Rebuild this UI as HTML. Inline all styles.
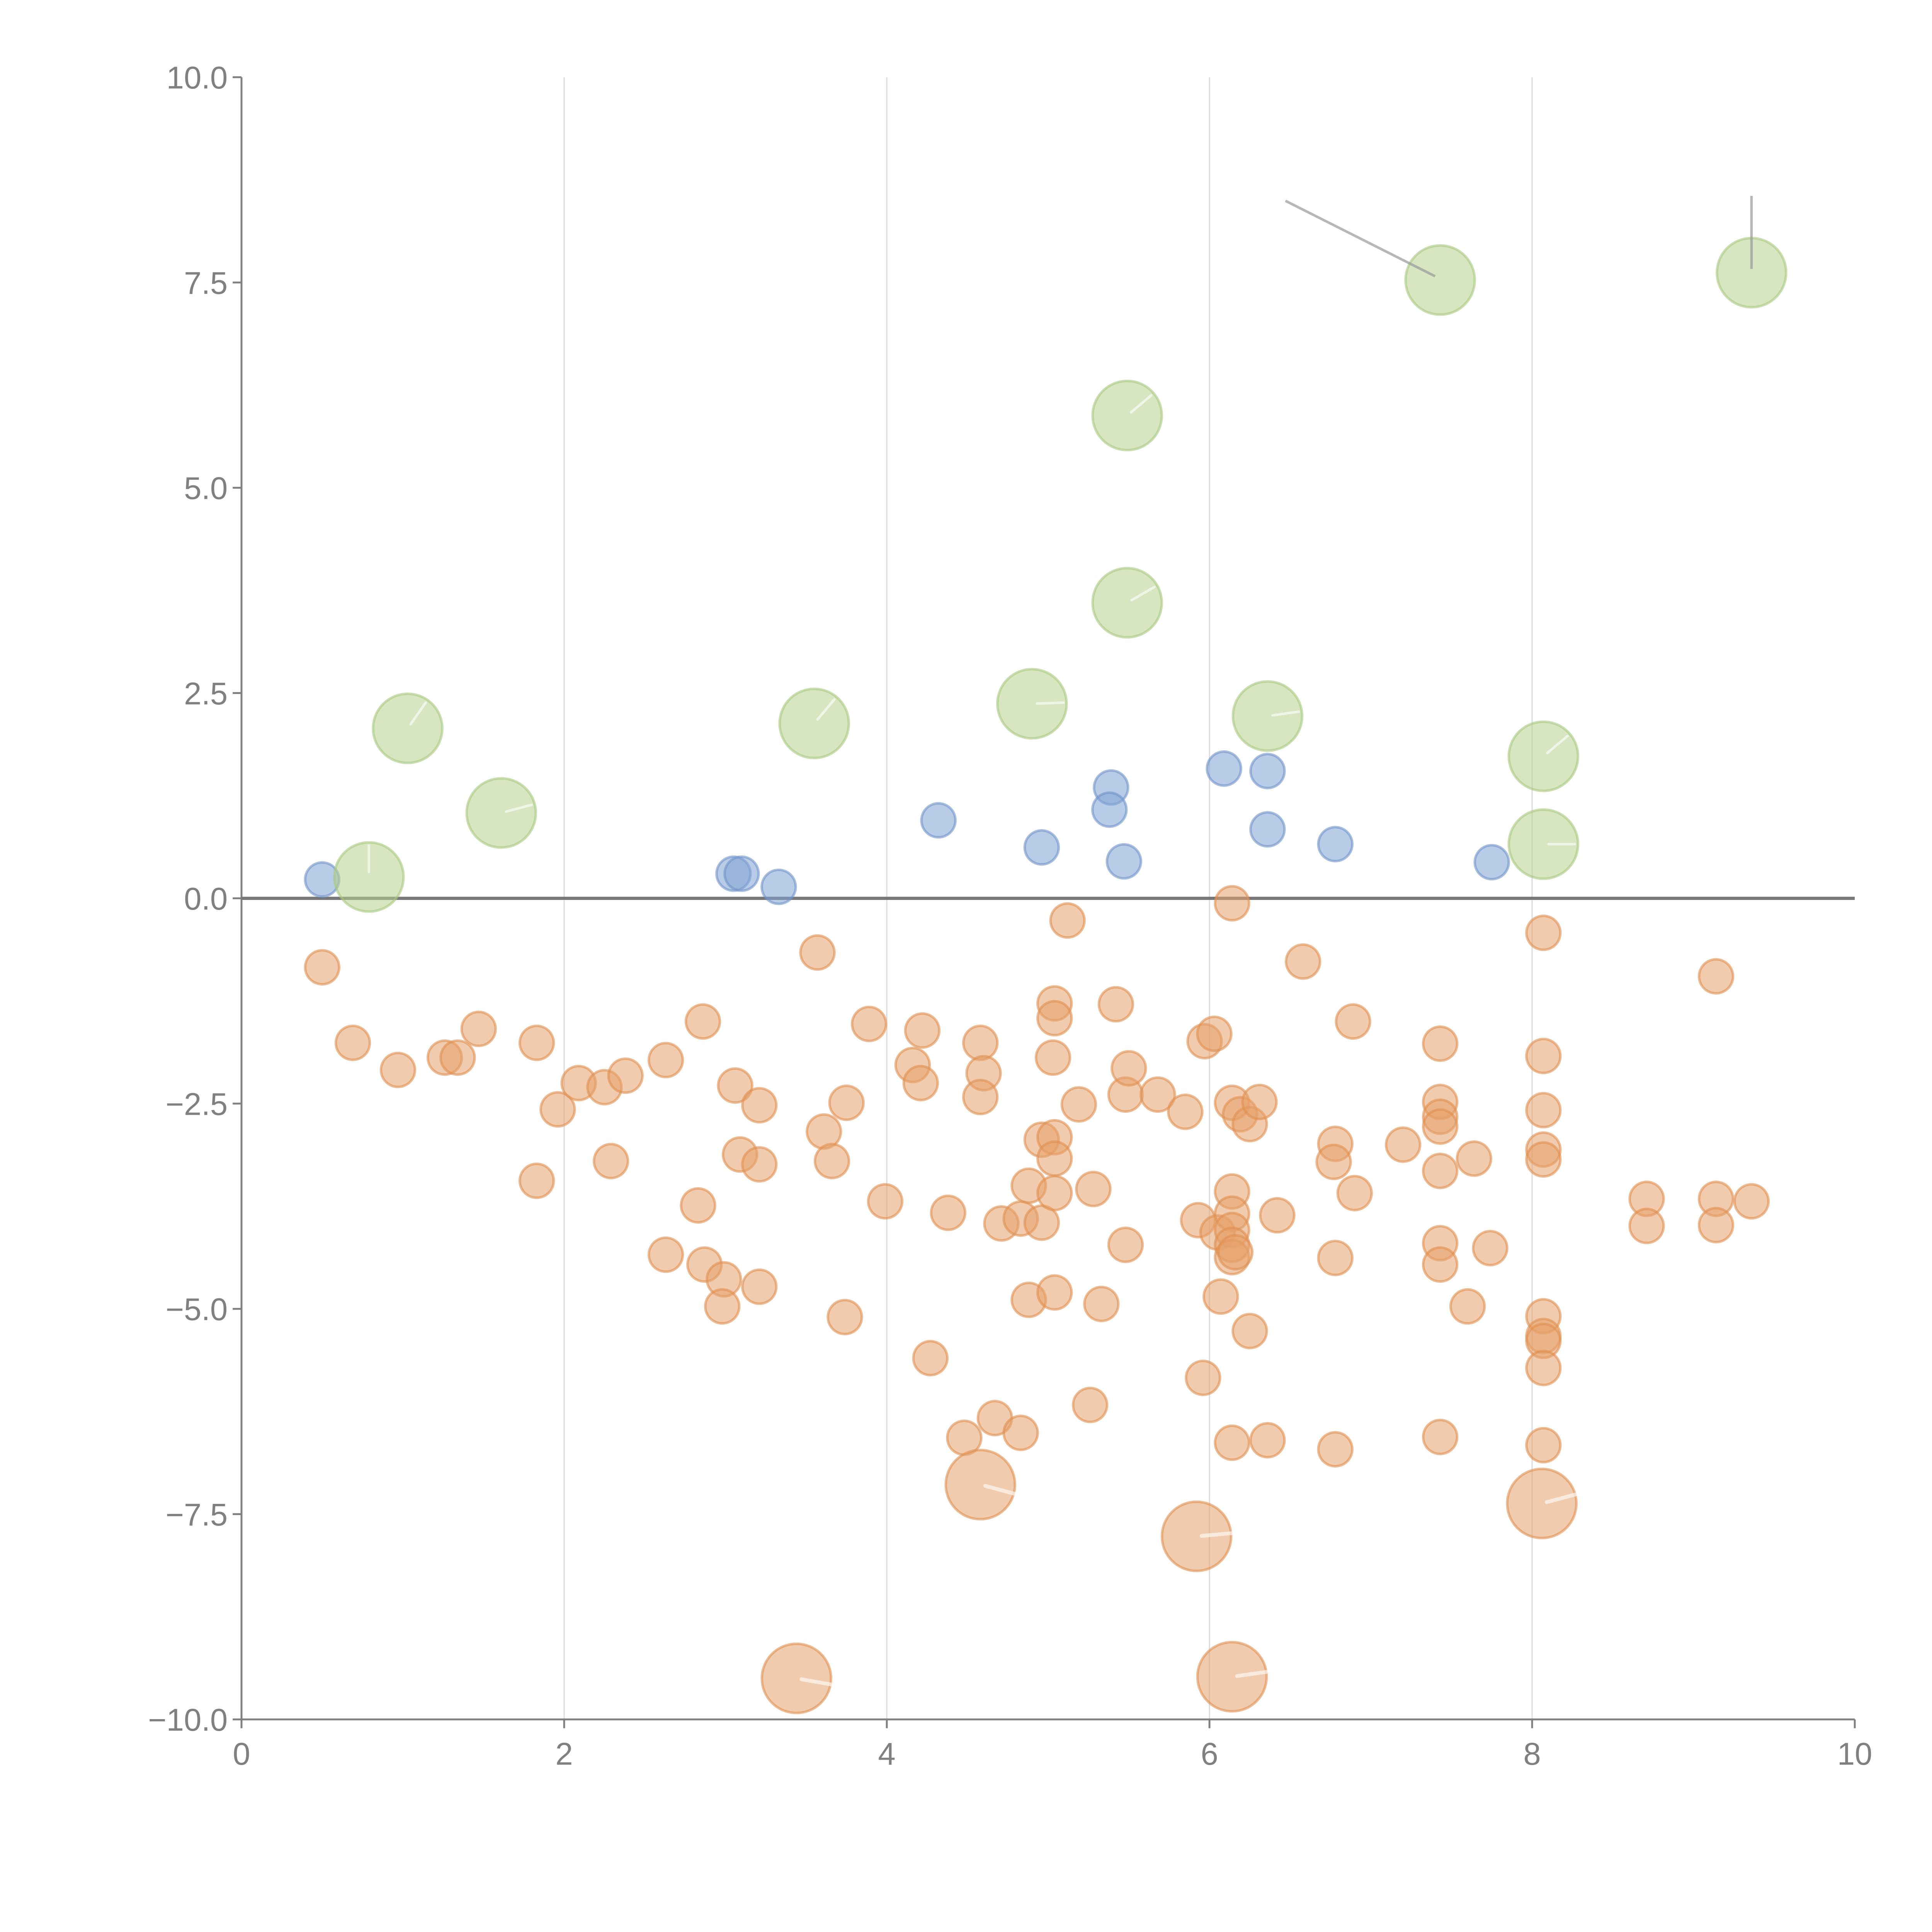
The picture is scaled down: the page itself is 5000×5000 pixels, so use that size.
<!DOCTYPE html>
<html><head><meta charset="utf-8"><style>
html,body{margin:0;padding:0;background:#fff}
svg{display:block}
text{font-family:"Liberation Sans",sans-serif;fill:#808080}
</style></head><body>
<svg id="chart" width="5000" height="5000" viewBox="0 0 1536 1536" xmlns="http://www.w3.org/2000/svg">
<g id="grid"></g>
<g id="axes"></g>
<g id="marks"></g>
</svg>
<script>
const greenX=[0.79,1.03,1.61,3.55,4.90,5.49,5.49,6.36,7.43,8.07,8.07,9.36];
const greenY=[0.26,2.07,1.04,2.13,2.37,5.88,3.60,2.22,7.53,1.73,0.66,7.62];
const greenAng=[90,55,15,50,2,40,30,8,150,40,0,90];
const blueX=[0.50,3.05,3.10,3.33,4.32,4.96,5.39,5.38,5.47,6.09,6.36,6.36,6.78,7.75];
const blueY=[0.23,0.30,0.30,0.14,0.95,0.62,1.35,1.08,0.45,1.58,1.55,0.84,0.66,0.44];
const orangeX=[0.50,0.69,0.97,1.26,1.34,1.47,1.83,1.83,1.96,2.09,2.25,2.38,2.29,2.63,2.63,2.86,2.83,2.87,2.99,2.98,3.06,3.09,3.21,3.21,3.21,3.57,3.61,3.66,3.75,3.74,3.89,3.99,4.16,4.22,4.21,4.27,4.38,4.58,4.60,4.58,4.48,4.67,4.83,4.71,4.83,4.88,4.96,4.96,5.04,5.04,5.04,5.04,5.04,5.03,4.88,5.04,5.12,5.19,5.28,5.26,5.33,5.42,5.48,5.50,5.48,5.68,5.85,5.96,5.93,5.97,6.03,6.07,6.05,6.14,6.14,6.14,6.14,6.14,6.14,6.14,6.19,6.16,6.25,6.25,6.14,6.31,6.36,6.42,6.58,6.78,6.77,6.78,6.78,6.89,6.90,7.20,7.43,7.43,7.43,7.43,7.43,7.43,7.43,7.43,7.60,7.64,7.74,8.07,8.07,8.07,8.07,8.07,8.07,8.07,8.07,8.07,8.07,8.71,8.71,9.14,9.14,9.14,9.36];
const orangeY=[-0.84,-1.76,-2.09,-1.94,-1.94,-1.59,-1.76,-3.44,-2.57,-2.25,-2.30,-2.16,-3.20,-1.97,-4.34,-1.50,-3.74,-4.46,-4.64,-4.97,-2.28,-3.12,-2.52,-3.24,-4.73,-0.66,-2.84,-3.20,-2.49,-5.10,-1.53,-3.69,-2.03,-1.61,-2.25,-5.60,-3.83,-1.76,-2.13,-2.42,-6.57,-6.33,-6.51,-3.96,-3.90,-3.50,-3.95,-2.94,-2.91,-3.17,-3.59,-1.28,-1.46,-1.94,-4.89,-4.80,-0.27,-2.51,-3.54,-6.17,-4.94,-1.29,-2.39,-2.07,-4.22,-2.39,-2.60,-5.84,-3.92,-1.74,-1.65,-4.85,-4.07,-0.06,-2.49,-3.57,-3.84,-4.04,-4.22,-4.37,-2.63,-4.31,-2.75,-5.27,-6.63,-2.48,-6.60,-3.86,-0.77,-2.99,-3.21,-4.38,-6.71,-1.50,-3.59,-3.00,-1.77,-2.48,-2.66,-2.78,-3.32,-4.20,-4.46,-6.56,-4.97,-3.17,-4.26,-0.42,-1.92,-2.58,-3.06,-3.18,-5.09,-5.33,-5.39,-5.72,-6.66,-3.66,-3.99,-0.95,-3.66,-3.98,-3.69];
const bigOrangeX=[4.58,5.92,8.06,3.44,6.14];
const bigOrangeY=[-7.14,-7.77,-7.37,-9.50,-9.48];
const bigOrangeAng=[-15,5,15,-10,8];
const xTicks=[0,2,4,6,8,10];
const yTicks=[10,7.5,5,2.5,0,-2.5,-5,-7.5,-10];
const X0=192,X1=1474.6,Y0=1367,Y1=61.4;
const sx=v=>X0+(v-0)/(10-0)*(X1-X0);
const sy=v=>Y0-(v+10)/20*(Y0-Y1);
const NS="http://www.w3.org/2000/svg";
function mk(tag,attrs,parent){const e=document.createElementNS(NS,tag);for(const k in attrs)e.setAttribute(k,attrs[k]);parent.appendChild(e);return e;}
const grid=document.getElementById('grid'),axes=document.getElementById('axes'),marks=document.getElementById('marks');
xTicks.forEach(t=>{if(t>0&&t<10){const l=mk('line',{x1:sx(t),x2:sx(t),y1:Y1,y2:Y0,stroke:'#dcdcdc','stroke-width':1},grid);

}});
const ya=mk('line',{x1:X0,x2:X0,y1:Y1,y2:Y0,stroke:'#808080','stroke-width':1.5},axes);


const xa=mk('line',{x1:X0,x2:X1,y1:Y0,y2:Y0,stroke:'#808080','stroke-width':1.5},axes);


xTicks.forEach(t=>{mk('line',{x1:sx(t),x2:sx(t),y1:Y0,y2:Y0+7,stroke:'#808080','stroke-width':1.5},axes);
const tx=mk('text',{x:sx(t),y:Y0+36,'text-anchor':'middle','font-size':25},axes);tx.textContent=String(t);

});
yTicks.forEach(t=>{mk('line',{x1:X0-7,x2:X0,y1:sy(t),y2:sy(t),stroke:'#808080','stroke-width':1.5},axes);
const tx=mk('text',{x:X0-11,y:sy(t)+9,'text-anchor':'end','font-size':25},axes);tx.textContent=(t<0?'\u2212':'')+Math.abs(t).toFixed(1);

});
const zl=mk('line',{x1:X0,x2:X1,y1:sy(0),y2:sy(0),stroke:'#777','stroke-width':2.5},axes);


function dot(x,y,r,fill,stroke,name){const c=mk('circle',{cx:sx(x),cy:sy(y),r:r,fill:fill,'fill-opacity':0.55,stroke:stroke,'stroke-opacity':0.6,'stroke-width':2},marks);

return c;}
function tick(x,y,ang,len,col,w){const a=ang*Math.PI/180;mk('line',{x1:sx(x)+4*Math.cos(a),y1:sy(y)-4*Math.sin(a),x2:sx(x)+len*Math.cos(a),y2:sy(y)-len*Math.sin(a),stroke:col,'stroke-width':w,'stroke-linecap':'round','stroke-opacity':0.6},marks);}
orangeX.forEach((x,i)=>dot(x,orangeY[i],13.5,'#e6a06a','#e09050','orange-point'));
blueX.forEach((x,i)=>dot(x,blueY[i],13.5,'#7fa3d4','#6f93c8','blue-point'));
bigOrangeX.forEach((x,i)=>{dot(x,bigOrangeY[i],27.5,'#e6a06a','#e09050','large-orange-point');tick(x,bigOrangeY[i],bigOrangeAng[i],30,'#fff',3);});
greenX.forEach((x,i)=>{dot(x,greenY[i],27.5,'#b7d08e','#a8c880','green-point');
if(i===8){mk('line',{x1:sx(x)-4,y1:sy(greenY[i])-3,x2:sx(x)-123,y2:sy(greenY[i])-63,stroke:'#999','stroke-width':2,'stroke-opacity':0.7},marks);}
else if(i===11){mk('line',{x1:sx(x),y1:sy(greenY[i])-3,x2:sx(x),y2:sy(greenY[i])-61,stroke:'#999','stroke-width':2,'stroke-opacity':0.7},marks);}
else tick(x,greenY[i],greenAng[i],25,'#fff',2);});
</script>
</body></html>
